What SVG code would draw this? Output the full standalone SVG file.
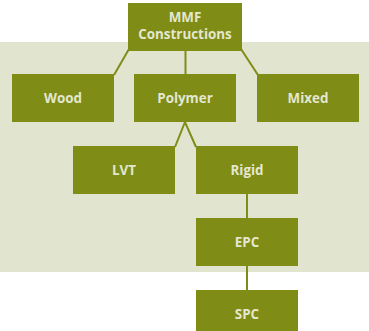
<svg xmlns="http://www.w3.org/2000/svg" width="369" height="331" viewBox="0 0 369 331">
<style>
.box{fill:#7f8c15}
.lbl{font-family:"Open Sans","Liberation Sans",sans-serif;font-weight:bold;font-size:13.4px;fill:#e4e7d0;text-anchor:middle}
.con{stroke:#7f8c15;stroke-width:2;fill:none}
</style>
<rect x="0" y="42" width="369" height="230" fill="#e1e4cf"/>
<g id="connectors">
<line class="con" x1="129" y1="49" x2="114" y2="75"/>
<line class="con" x1="185.5" y1="51" x2="185.5" y2="74"/>
<line class="con" x1="241" y1="49" x2="258" y2="75"/>
<polyline class="con" points="175,147 185,122 196,147"/>
<line class="con" x1="247" y1="194" x2="247" y2="218"/>
<line class="con" x1="247" y1="266" x2="247" y2="290"/>
</g>
<g id="mmf"><rect class="box" x="128" y="3" width="114" height="48"/><text class="lbl" x="185" y="22">MMF</text><text class="lbl" x="185" y="39">Constructions</text></g>
<g id="wood"><rect class="box" x="12" y="74" width="102" height="48"/><text class="lbl" x="63" y="103">Wood</text></g>
<g id="polymer"><rect class="box" x="134" y="74" width="102" height="48"/><text class="lbl" x="185" y="103">Polymer</text></g>
<g id="mixed"><rect class="box" x="257" y="74" width="102" height="48"/><text class="lbl" x="308" y="103">Mixed</text></g>
<g id="lvt"><rect class="box" x="73" y="146" width="102" height="48"/><text class="lbl" x="124" y="175">LVT</text></g>
<g id="rigid"><rect class="box" x="196" y="146" width="102" height="48"/><text class="lbl" x="247" y="175">Rigid</text></g>
<g id="epc"><rect class="box" x="196" y="218" width="102" height="48"/><text class="lbl" x="247" y="247">EPC</text></g>
<g id="spc"><rect class="box" x="196" y="290" width="102" height="48"/><text class="lbl" x="247" y="319">SPC</text></g>
</svg>
